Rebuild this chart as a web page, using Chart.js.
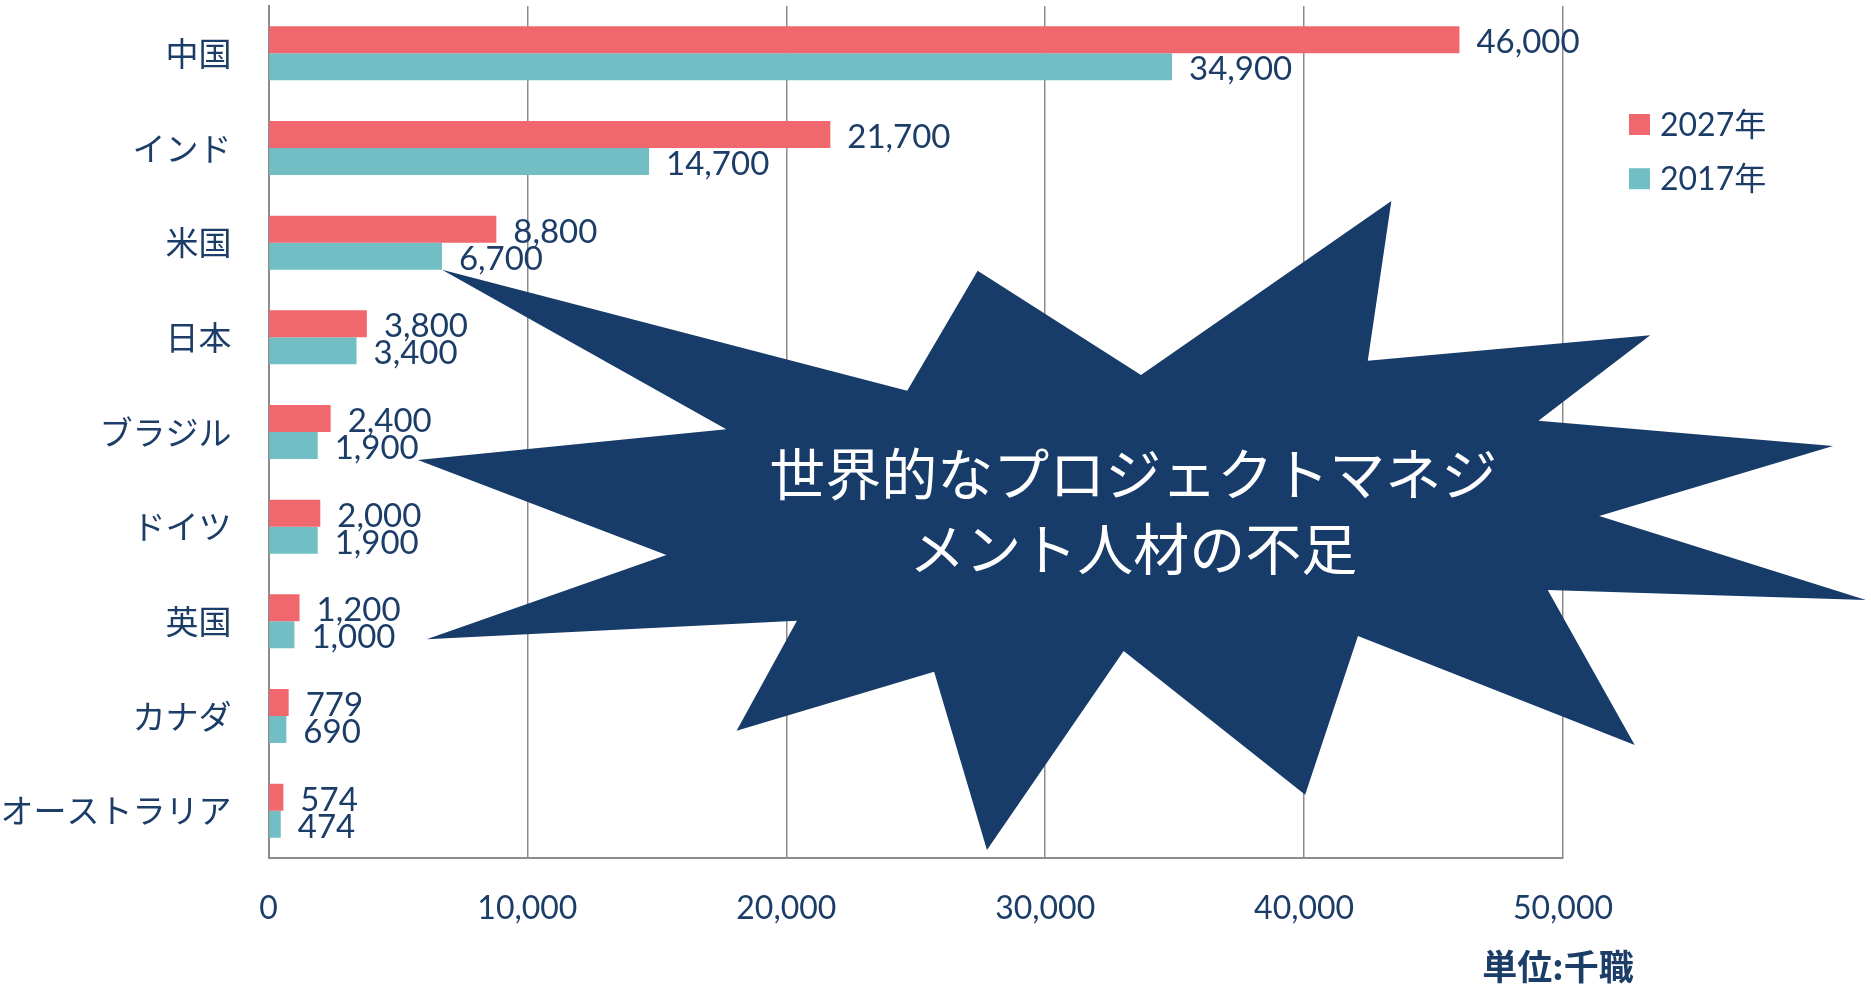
<!DOCTYPE html>
<html lang="ja">
<head>
<meta charset="utf-8">
<title>プロジェクトマネジメント人材の需要</title>
<script src="https://cdn.jsdelivr.net/npm/chart.js@4.4.1/dist/chart.umd.min.js"></script>
<style>
  html, body { margin: 0; padding: 0; background: #fff; }
  #wrap { width: 1871px; height: 984px; }
</style>
</head>
<body>
<div id="wrap"><canvas id="pmChart" width="1871" height="984"></canvas></div>
<script>
var countries = ['中国', 'インド', '米国', '日本', 'ブラジル', 'ドイツ', '英国', 'カナダ', 'オーストラリア'];
var jobs2027 = [46000, 21700, 8800, 3800, 2400, 2000, 1200, 779, 574];
var jobs2017 = [34900, 14700, 6700, 3400, 1900, 1900, 1000, 690, 474];
var seriesLabels = ['2027年', '2017年'];
var xTicks = [0, 10000, 20000, 30000, 40000, 50000];
var unitLabel = '単位:千職';
var calloutLines = ['世界的なプロジェクトマネジ', 'メント人材の不足'];

// starburst outline, each point as [x value, category index]
var burst = [
  [6700, 2.285], [24670, 3.564], [27390, 2.296], [33700, 3.398],
  [43370, 1.560], [42460, 3.247], [53370, 2.978], [49050, 3.880],
  [60430, 4.148], [51400, 4.887], [61700, 5.774], [49410, 5.669],
  [52770, 7.306], [42080, 6.155], [40040, 7.831], [33030, 6.313],
  [27750, 8.415], [25710, 6.532], [18080, 7.155], [20410, 5.993],
  [6110, 6.190], [15370, 5.299], [5770, 4.296], [17680, 3.971]
];

var NAVY = '#1b3d68';
var BURST = '#173c69';
var RED = '#f1676e';
var TEAL = '#71bfc5';
var GRID = '#8c8c8c';
var LATIN = "Lato, 'Noto Sans CJK JP', sans-serif";
var CJK = "'Noto Sans CJK JP', sans-serif";

var decorations = {
  id: 'decorations',
  afterDatasetsDraw: function (chart) {
    var ctx = chart.ctx;
    ctx.save();
    ctx.font = '33px ' + LATIN;
    ctx.fillStyle = NAVY;
    ctx.textAlign = 'left';
    ctx.textBaseline = 'middle';
    chart.data.datasets.forEach(function (ds, i) {
      chart.getDatasetMeta(i).data.forEach(function (bar, j) {
        ctx.fillText(ds.data[j].toLocaleString('en-US'), bar.x + 17, bar.y + 3);
      });
    });
    ctx.restore();
  },
  afterDraw: function (chart) {
    var ctx = chart.ctx;
    var xs = chart.scales.x;
    var ys = chart.scales.y;
    ctx.save();

    // callout star
    ctx.beginPath();
    burst.forEach(function (p, i) {
      var px = xs.getPixelForValue(p[0]);
      var py = ys.getPixelForValue(p[1]);
      if (i === 0) ctx.moveTo(px, py); else ctx.lineTo(px, py);
    });
    ctx.closePath();
    ctx.fillStyle = BURST;
    ctx.fill();

    ctx.fillStyle = '#ffffff';
    ctx.font = '56px ' + CJK;
    ctx.textAlign = 'center';
    ctx.textBaseline = 'middle';
    var cx = xs.getPixelForValue(33400);
    ctx.fillText(calloutLines[0], cx, ys.getPixelForValue(4.443));
    ctx.fillText(calloutLines[1], cx, ys.getPixelForValue(5.236));

    // legend
    ctx.font = '32px ' + LATIN;
    ctx.textAlign = 'left';
    var rows = [124.5, 178.7];
    chart.data.datasets.forEach(function (ds, i) {
      ctx.fillStyle = ds.backgroundColor;
      ctx.fillRect(1629, rows[i] - 10.5, 21, 21);
      ctx.fillStyle = NAVY;
      ctx.fillText(ds.label, 1660, rows[i] + 1);
    });

    // unit note
    ctx.font = 'bold 35px ' + CJK;
    ctx.textAlign = 'center';
    ctx.fillText(unitLabel, xs.getPixelForValue(50000) - 5, 967);
    ctx.restore();
  }
};

new Chart(document.getElementById('pmChart'), {
  type: 'bar',
  data: {
    labels: countries,
    datasets: [
      { label: seriesLabels[0], data: jobs2027, backgroundColor: RED },
      { label: seriesLabels[1], data: jobs2017, backgroundColor: TEAL }
    ]
  },
  options: {
    indexAxis: 'y',
    responsive: false,
    animation: false,
    devicePixelRatio: 1,
    categoryPercentage: 0.57,
    barPercentage: 1,
    layout: { padding: { top: 6, right: 308, bottom: 0, left: 0 } },
    plugins: {
      legend: { display: false },
      tooltip: { enabled: false }
    },
    scales: {
      x: {
        min: 0,
        max: 50000,
        afterBuildTicks: function (s) {
          s.ticks = xTicks.map(function (v) { return { value: v }; });
        },
        afterFit: function (s) { s.height = 126; },
        grid: { color: GRID, lineWidth: 1.5, drawTicks: false },
        border: { color: GRID, width: 2 },
        ticks: {
          padding: 31,
          color: NAVY,
          font: { family: LATIN, size: 32 },
          callback: function (v) { return v.toLocaleString('en-US'); }
        }
      },
      y: {
        afterFit: function (s) {
          s.width = 268.5;
          s.paddingTop = 0;
          s.paddingBottom = 0;
        },
        grid: { display: false, drawTicks: false },
        border: { color: GRID, width: 2 },
        ticks: {
          padding: 37,
          color: NAVY,
          font: { family: CJK, size: 33 }
        }
      }
    }
  },
  plugins: [decorations]
});
</script>
</body>
</html>
